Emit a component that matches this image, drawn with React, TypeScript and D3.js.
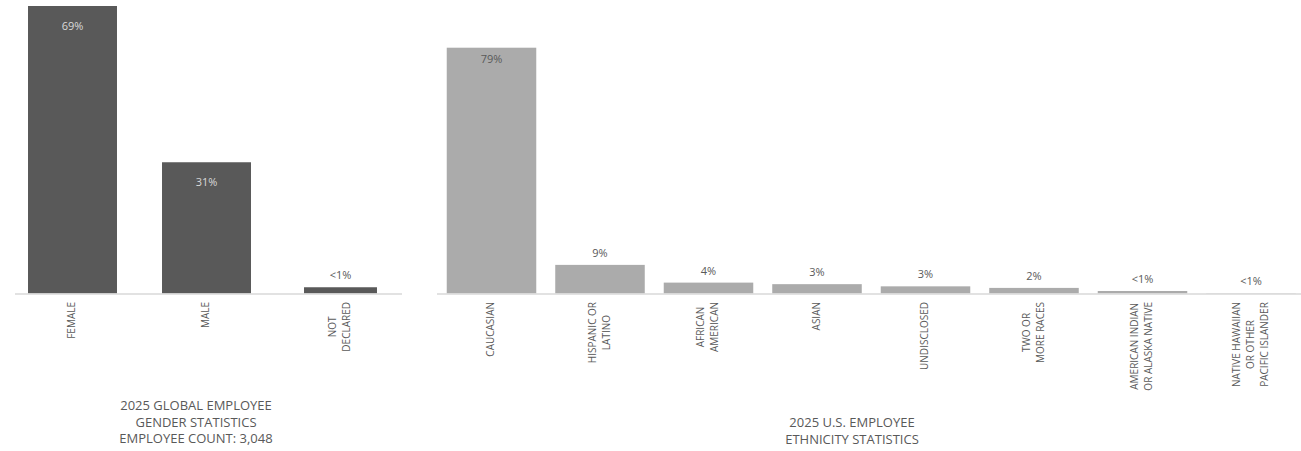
import React, { useEffect, useRef } from "react";
import * as d3 from "d3";

const genderCategories = ["FEMALE", "MALE", "NOT\nDECLARED"];
const genderValues = [69, 31.5, 1.5];
const genderLabels = ["69%", "31%", "<1%"];
const genderTitle = ["2025 GLOBAL EMPLOYEE", "GENDER STATISTICS", "EMPLOYEE COUNT: 3,048"];

const ethnicityCategories = [
  "CAUCASIAN",
  "HISPANIC OR\nLATINO",
  "AFRICAN\nAMERICAN",
  "ASIAN",
  "UNDISCLOSED",
  "TWO OR\nMORE RACES",
  "AMERICAN INDIAN\nOR ALASKA NATIVE",
  "NATIVE HAWAIIAN\nOR OTHER\nPACIFIC ISLANDER",
];
const ethnicityValues = [79, 9.2, 3.5, 3.0, 2.3, 1.8, 0.8, 0.1];
const ethnicityLabels = ["79%", "9%", "4%", "3%", "3%", "2%", "<1%", "<1%"];
const ethnicityTitle = ["2025 U.S. EMPLOYEE", "ETHNICITY STATISTICS"];

const W = 1301;
const H = 451;
const FONT = "'Open Sans', sans-serif";
const TEXT = "#595959";

type Panel = {
  cats: string[];
  vals: number[];
  labels: string[];
  title: string[];
  x0: number;
  x1: number;
  pad: number;
  axisX0: number;
  axisX1: number;
  yMax: number;
  yTopPx: number;
  fill: string;
  insideColor: string;
  insideOffset: number;
  titleX: number;
  titleY: number;
  narrowLast?: boolean;
};

export default function App() {
  const ref = useRef<SVGSVGElement>(null);

  useEffect(() => {
    const svg = d3.select(ref.current);
    svg.selectAll("*").remove();
    const baseY = 293.5;

    const panels: Panel[] = [
      {
        cats: genderCategories,
        vals: genderValues,
        labels: genderLabels,
        title: genderTitle,
        x0: 5.5,
        x1: 407.5,
        pad: 0.336,
        axisX0: 15,
        axisX1: 402,
        yMax: 69,
        yTopPx: 6,
        fill: "#595959",
        insideColor: "#d9d9d9",
        insideOffset: 21,
        titleX: 196,
        titleY: 407,
        narrowLast: true,
      },
      {
        cats: ethnicityCategories,
        vals: ethnicityValues,
        labels: ethnicityLabels,
        title: ethnicityTitle,
        x0: 437.25,
        x1: 1305.25,
        pad: 0.175,
        axisX0: 437,
        axisX1: 1301,
        yMax: 79,
        yTopPx: 47.7,
        fill: "#ababab",
        insideColor: "#595959",
        insideOffset: 12.5,
        titleX: 852,
        titleY: 424,
      },
    ];

    panels.forEach((p) => {
      const g = svg.append("g");
      const x = d3
        .scaleBand<string>()
        .domain(p.cats)
        .range([p.x0, p.x1])
        .paddingInner(p.pad)
        .paddingOuter(p.pad / 2);
      const y = d3.scaleLinear().domain([0, p.yMax]).range([baseY, p.yTopPx]);
      const bw = x.bandwidth();
      const barW = (i: number) => (p.narrowLast && i === p.vals.length - 1 ? bw * 0.82 : bw);

      // bars
      g.selectAll("rect.bar")
        .data(p.vals)
        .join("rect")
        .attr("class", "bar")
        .attr("x", (d, i) => (x(p.cats[i]) as number) + (bw - barW(i)) / 2)
        .attr("width", (d, i) => barW(i))
        .attr("y", (d) => y(d))
        .attr("height", (d) => baseY - y(d))
        .attr("fill", p.fill);

      // axis line
      g.append("line")
        .attr("x1", p.axisX0)
        .attr("x2", p.axisX1)
        .attr("y1", baseY + 0.5)
        .attr("y2", baseY + 0.5)
        .attr("stroke", "#d9d9d9")
        .attr("stroke-width", 1.5);

      // value labels
      g.selectAll("text.val")
        .data(p.vals)
        .join("text")
        .attr("class", "val")
        .attr("x", (d, i) => (x(p.cats[i]) as number) + bw / 2)
        .attr("y", (d) => (d > 20 ? y(d) + p.insideOffset : y(d) - 11))
        .attr("dominant-baseline", "middle")
        .attr("text-anchor", "middle")
        .attr("font-family", FONT)
        .attr("font-size", 11)
        .attr("fill", (d) => (d > 20 ? p.insideColor : TEXT))
        .text((d, i) => p.labels[i]);

      // category labels (rotated, block top-aligned, lines centered)
      const lineH = 14;
      p.cats.forEach((c) => {
        const lines = c.split("\n");
        const cx = (x(c) as number) + bw / 2;
        const t = g
          .append("text")
          .attr("font-family", FONT)
          .attr("font-size", 10)
          .attr("fill", TEXT)
          .attr("text-anchor", "middle");
        lines.forEach((ln, k) => {
          t.append("tspan")
            .attr("x", 0)
            .attr("y", (k - (lines.length - 1) / 2) * lineH)
            .attr("dominant-baseline", "middle")
            .text(ln);
        });
        let maxLen = 0;
        t.selectAll<SVGTSpanElement, unknown>("tspan").each(function () {
          maxLen = Math.max(maxLen, this.getComputedTextLength());
        });
        const top = 302;
        t.attr("transform", `translate(${cx},${top + maxLen / 2}) rotate(-90)`);
      });

      // title
      const tt = g
        .append("text")
        .attr("font-family", FONT)
        .attr("font-size", 13)
        .attr("fill", TEXT)
        .attr("text-anchor", "middle");
      p.title.forEach((ln, k) => {
        tt.append("tspan")
          .attr("x", p.titleX)
          .attr("y", p.titleY + k * 16.5)
          .attr("dominant-baseline", "middle")
          .text(ln);
      });
    });
  }, []);

  return (
    <svg
      ref={ref}
      width={W}
      height={H}
      style={{ position: "absolute", left: 0, top: 0, display: "block", background: "#fff" }}
    />
  );
}
